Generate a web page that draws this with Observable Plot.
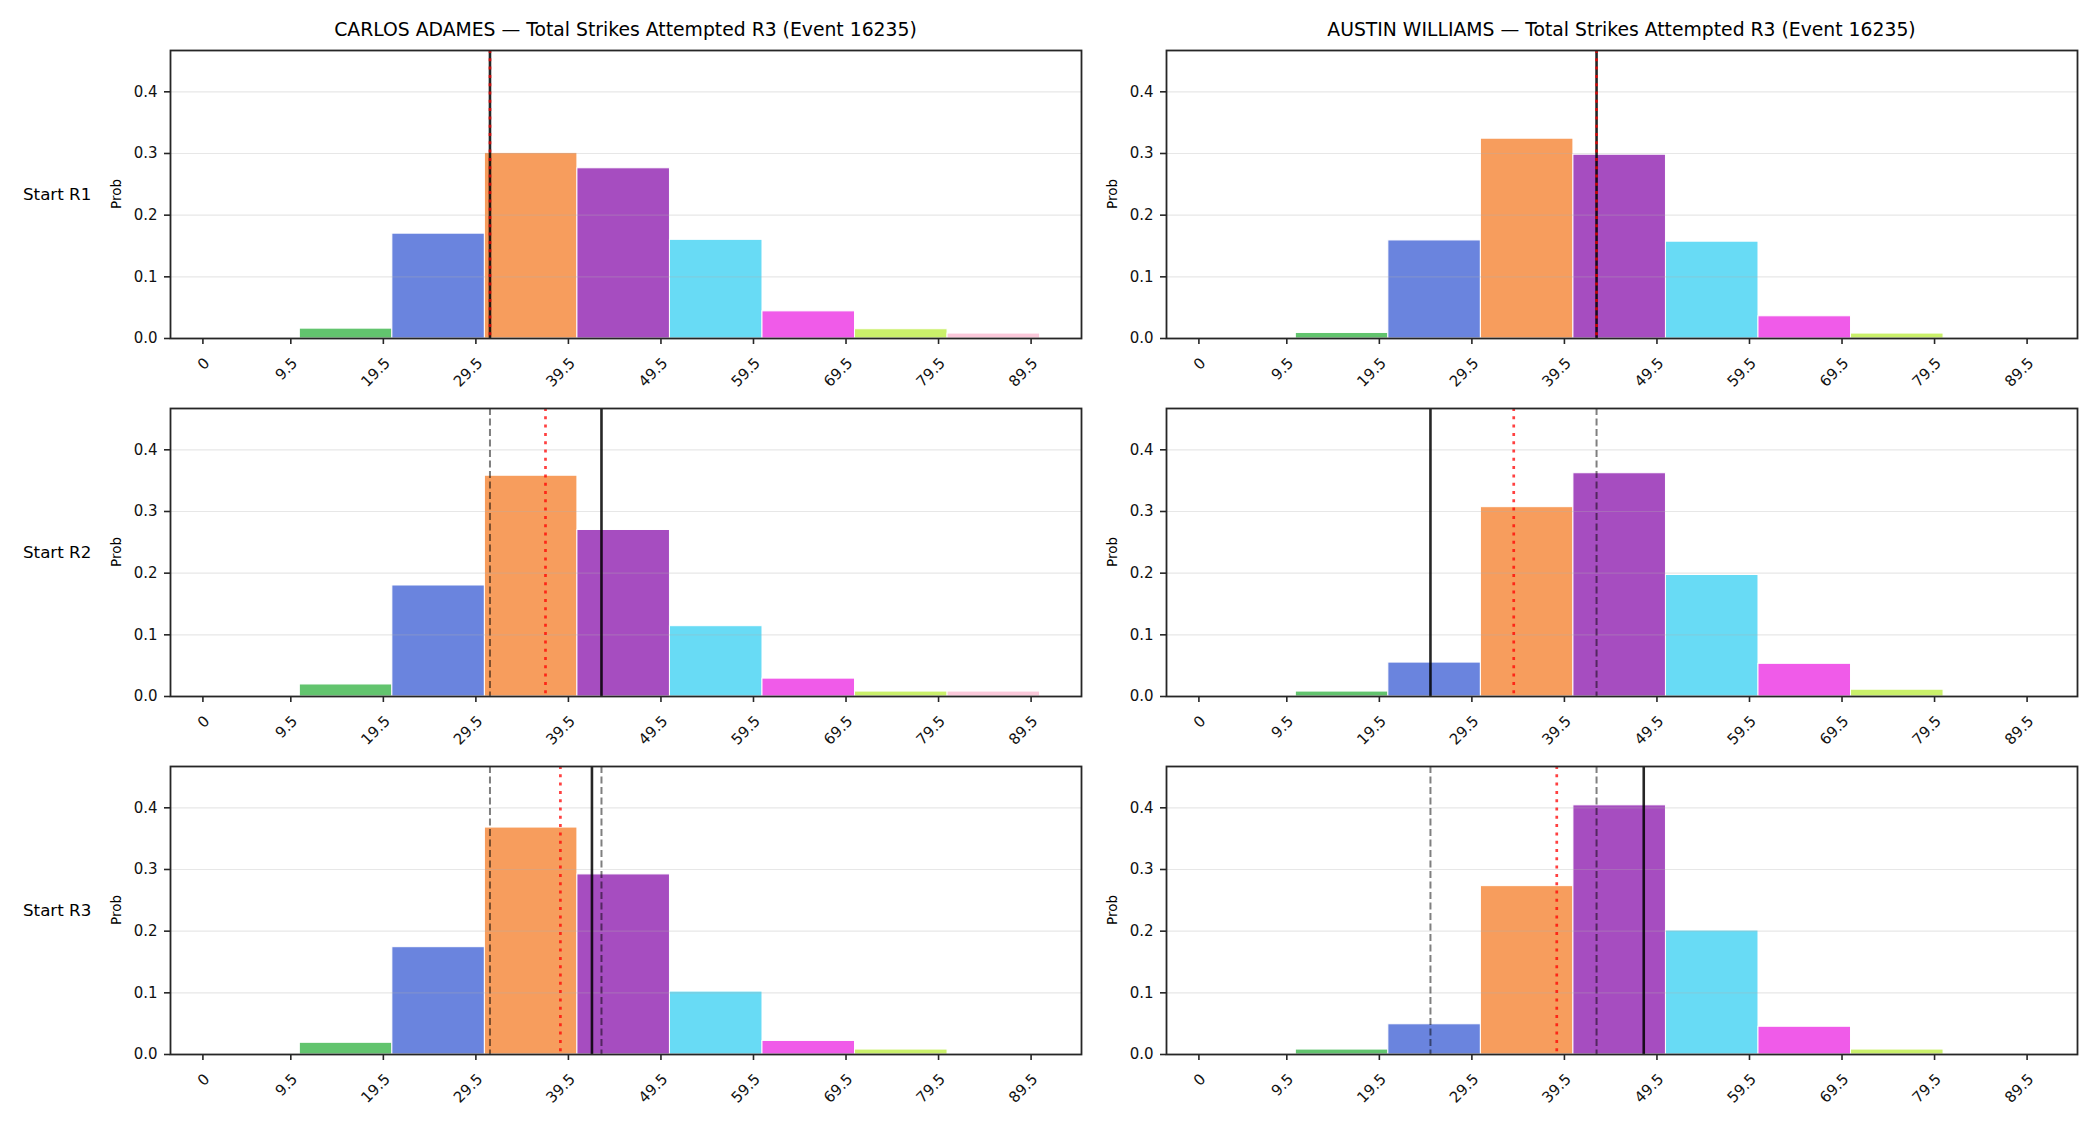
<!DOCTYPE html>
<html>
<head>
<meta charset="utf-8">
<script src="https://cdn.jsdelivr.net/npm/d3@7"></script>
<script src="https://cdn.jsdelivr.net/npm/@observablehq/plot@0.6"></script>
<style>
  html, body { margin: 0; padding: 0; background: #ffffff; }
  #root { position: relative; width: 2100px; height: 1125px; background: #ffffff; font-family: "DejaVu Sans", sans-serif; color: #000; overflow: hidden; }
  .title { position: absolute; width: 1000px; text-align: center; font-size: 18.8px; line-height: 22px; white-space: nowrap; }
  .rowlab { position: absolute; font-size: 16.7px; line-height: 20px; white-space: nowrap; }
  .ylab { position: absolute; width: 100px; text-align: center; font-size: 13.5px; line-height: 16px; transform: rotate(-90deg); transform-origin: 50% 50%; white-space: nowrap; }
  .panel { position: absolute; }
</style>
</head>
<body>
<div id="root"></div>
<script>
// ---------------- data ----------------
const players = ["CARLOS ADAMES", "AUSTIN WILLIAMS"];
const chartTitleSuffix = " — Total Strikes Attempted R3 (Event 16235)";
const roundLabels = ["Start R1", "Start R2", "Start R3"];
const yLabel = "Prob";

// bin edges (bars span edge[i] .. edge[i+1])
const binEdges = [0, 9.5, 19.5, 29.5, 39.5, 49.5, 59.5, 69.5, 79.5, 89.5];
const xTickLabels = ["0", "9.5", "19.5", "29.5", "39.5", "49.5", "59.5", "69.5", "79.5", "89.5"];
const yTicks = [0, 0.1, 0.2, 0.3, 0.4];

// probabilities per bin
const adamesR1   = [0, 0.016, 0.170, 0.301, 0.276, 0.160, 0.044, 0.015, 0.008];
const adamesR2   = [0, 0.0195, 0.180, 0.358, 0.270, 0.114, 0.029, 0.008, 0.008];
const adamesR3   = [0, 0.019, 0.174, 0.368, 0.292, 0.102, 0.022, 0.008, 0];
const williamsR1 = [0, 0.009, 0.159, 0.324, 0.298, 0.157, 0.036, 0.008, 0];
const williamsR2 = [0, 0.008, 0.055, 0.307, 0.362, 0.197, 0.053, 0.011, 0];
const williamsR3 = [0, 0.008, 0.049, 0.273, 0.404, 0.201, 0.045, 0.008, 0];

// line at start of each round (black solid; earlier rounds shown grey dashed)
const adamesLines   = [30.05, 42.1, 41.07];
const williamsLines = [42.0, 24.05, 47.1];
// model mean per round (red dotted)
const adamesMeans   = [30.05, 36.05, 37.66];
const williamsMeans = [42.0, 33.05, 37.7];

// ---------------- styles ----------------
const palette = ["#1f77b4", "#62c46e", "#6a84de", "#f79d5d", "#a64dc0", "#68dbf5", "#f05be9", "#caf06a", "#fbc8da"];

const probs = [[adamesR1, adamesR2, adamesR3], [williamsR1, williamsR2, williamsR3]];
const lines = [adamesLines, williamsLines];
const means = [adamesMeans, williamsMeans];

const frameLefts = [170, 1166];
const frameTops = [50, 408, 766];
const frameW = 911, frameH = 288;
const mL = 70, mR = 12, mT = 10, mB = 80;

const root = document.getElementById("root");

function addDiv(cls, text, style) {
  const d = document.createElement("div");
  d.className = cls;
  d.textContent = text;
  Object.assign(d.style, style);
  root.appendChild(d);
  return d;
}

// titles
players.forEach((p, c) => {
  const cx = frameLefts[c] + frameW / 2;
  addDiv("title", p + chartTitleSuffix, { left: (cx - 500) + "px", top: "19px" });
});

// row labels
roundLabels.forEach((r, i) => {
  const cy = frameTops[i] + frameH / 2;
  addDiv("rowlab", r, { left: "23px", top: (cy - 10) + "px" });
});

const xTickVals = xTickLabels.map(Number);

for (let c = 0; c < players.length; c++) {
  for (let r = 0; r < roundLabels.length; r++) {
    const bars = [];
    probs[c][r].forEach((p, i) => {
      if (p > 0) bars.push({ x1: binEdges[i], x2: binEdges[i + 1], p, color: palette[i] });
    });
    const prev = lines[c].slice(0, r);
    const cur = [lines[c][r]];
    const mu = [means[c][r]];

    const svg = Plot.plot({
      width: frameW + mL + mR,
      height: frameH + mT + mB,
      marginLeft: mL, marginRight: mR, marginTop: mT, marginBottom: mB,
      style: { background: "transparent", overflow: "visible", fontFamily: "DejaVu Sans", fontSize: "15px", color: "#111" },
      x: { domain: [-4.475, 93.975] },
      y: { domain: [0, 0.467] },
      color: { type: "identity" },
      marks: [
        Plot.rect(bars, { x1: "x1", x2: "x2", y1: 0, y2: "p", fill: "color", stroke: "#ffffff", strokeWidth: 1 }),
        Plot.gridY(yTicks, { stroke: "#b0b0b0", strokeOpacity: 0.3, strokeWidth: 1.2 }),
        Plot.ruleX(prev, { stroke: "#000", strokeOpacity: 0.5, strokeWidth: 2, strokeDasharray: "7,3.5" }),
        Plot.ruleX(cur, { stroke: "#000", strokeOpacity: 0.85, strokeWidth: 2.6 }),
        Plot.ruleX(mu, { stroke: "#ff0000", strokeOpacity: 0.75, strokeWidth: 2.7, strokeDasharray: "3,5.3" }),
        Plot.axisY({ ticks: yTicks, tickFormat: d3.format(".1f"), tickSize: 6, tickPadding: 7, stroke: "#262626", strokeWidth: 1.6, fontSize: 15, label: null }),
        Plot.axisX({ ticks: xTickVals, tickFormat: (d) => xTickLabels[xTickVals.indexOf(d)], tickRotate: -45, textAnchor: "end", lineAnchor: "top", tickSize: 6, tickPadding: 12, dx: -9, stroke: "#262626", strokeWidth: 1.6, fontSize: 15, label: null }),
        Plot.frame({ stroke: "#262626", strokeWidth: 1.8 })
      ]
    });
    svg.classList.add("panel");
    svg.style.position = "absolute";
    svg.style.left = (frameLefts[c] - mL) + "px";
    svg.style.top = (frameTops[r] - mT) + "px";
    svg.style.maxWidth = "none";
    root.appendChild(svg);

    addDiv("ylab", yLabel, { left: (frameLefts[c] - 54 - 50) + "px", top: (frameTops[r] + frameH / 2 - 8) + "px" });
  }
}
</script>
</body>
</html>
